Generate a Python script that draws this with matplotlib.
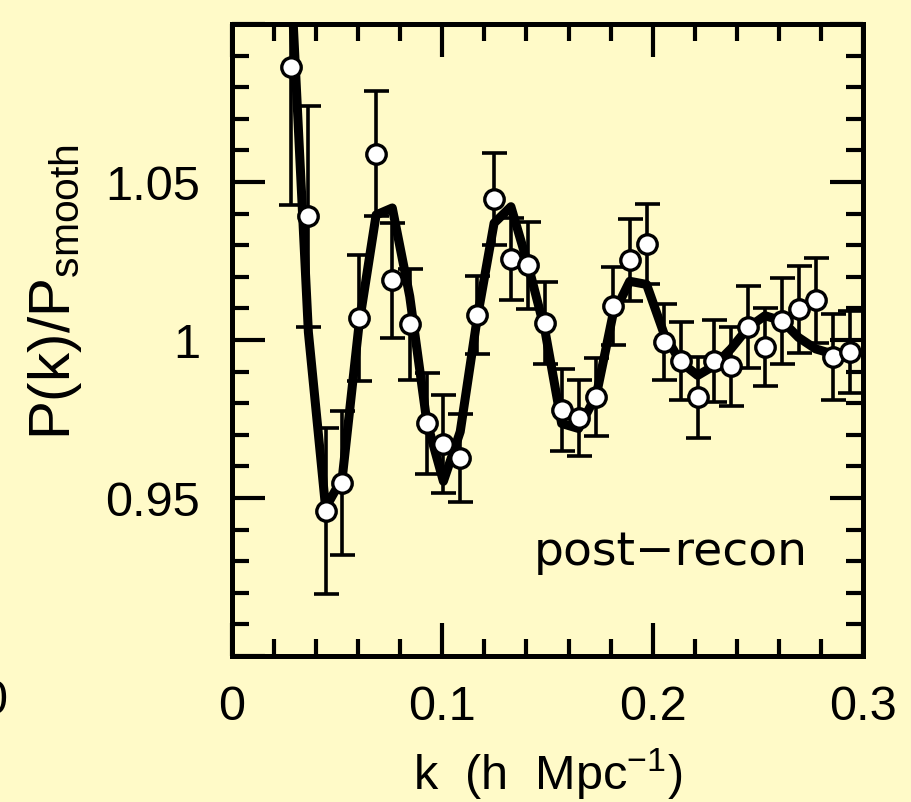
import numpy as np
import matplotlib
matplotlib.use("Agg")
import matplotlib.pyplot as plt
from matplotlib.ticker import MultipleLocator, FixedLocator, FixedFormatter

# BAO wiggles, post-recon panel
k = [0.0280, 0.0363, 0.0445, 0.0524, 0.0604, 0.0685, 0.0762, 0.0845, 0.0926, 0.1005,
     0.1085, 0.1165, 0.1246, 0.1326, 0.1409, 0.1488, 0.1567, 0.1648, 0.1732, 0.1810,
     0.1891, 0.1971, 0.2054, 0.2133, 0.2214, 0.2293, 0.2372, 0.2455, 0.2534, 0.2615,
     0.2694, 0.2775, 0.2856, 0.2938]
ratio = [1.0865, 1.0391, 0.9460, 0.9549, 1.0069, 1.0589, 1.0189, 1.0050, 0.9736, 0.9670,
         0.9627, 1.0079, 1.0447, 1.0256, 1.0236, 1.0053, 0.9778, 0.9754, 0.9820, 1.0108,
         1.0253, 1.0304, 0.9993, 0.9933, 0.9819, 0.9933, 0.9917, 1.0040, 0.9977, 1.0060,
         1.0097, 1.0126, 0.9946, 0.9963]
err = [0.0437, 0.0350, 0.0263, 0.0228, 0.0200, 0.0198, 0.0182, 0.0176, 0.0160, 0.0155,
       0.0140, 0.0124, 0.0146, 0.0130, 0.0138, 0.0130, 0.0129, 0.0120, 0.0123, 0.0124,
       0.0130, 0.0126, 0.0120, 0.0123, 0.0128, 0.0130, 0.0125, 0.0130, 0.0123, 0.0137,
       0.0137, 0.0134, 0.0135, 0.0130]
model = [1.1150, 1.0025, 0.9469, 0.9563, 1.0050, 1.0396, 1.0418, 1.0138, 0.9742, 0.9553,
         0.9710, 1.0066, 1.0370, 1.0422, 1.0234, 1.0030, 0.9736, 0.9720, 0.9825, 1.0077,
         1.0186, 1.0176, 1.0020, 0.9930, 0.9888, 0.9919, 0.9972, 1.0040, 1.0077, 1.0061,
         1.0008, 0.9972, 0.9956, 0.9965]

xticks = [0, 0.1, 0.2, 0.3]
xlabels = ['0', '0.1', '0.2', '0.3']
yticks = [0.9, 0.95, 1.0, 1.05, 1.1]
ylabels = ['', '0.95', '1', '1.05', '']

bg = '#fffac8'
plt.rcParams['font.family'] = ['Liberation Sans', 'DejaVu Sans']
plt.rcParams['mathtext.fontset'] = 'custom'
plt.rcParams['mathtext.rm'] = 'Liberation Sans'
plt.rcParams['mathtext.it'] = 'Liberation Sans'

fig = plt.figure(figsize=(9.11, 8.02), dpi=100, facecolor=bg)
ax = fig.add_axes([0.2547, 0.182, 0.6926, 0.788], facecolor=bg)

ax.errorbar(k, ratio, yerr=err, fmt='none', ecolor='black', elinewidth=2.6,
            capsize=9, capthick=2.6, zorder=2)
ax.plot(k, model, color='black', lw=6.5, zorder=3)
ax.plot(k, ratio, 'o', ms=14, mfc='white', mec='black', mew=2.4, zorder=4)

ax.set_xlim(0, 0.3)
ax.set_ylim(0.9, 1.1)
ax.xaxis.set_major_locator(FixedLocator(xticks))
ax.xaxis.set_major_formatter(FixedFormatter(xlabels))
ax.xaxis.set_minor_locator(MultipleLocator(0.02))
ax.yaxis.set_major_locator(FixedLocator(yticks))
ax.yaxis.set_major_formatter(FixedFormatter(ylabels))
ax.yaxis.set_minor_locator(MultipleLocator(0.01))

ax.tick_params(which='both', direction='in', top=True, right=True, width=3, color='black')
ax.tick_params(which='major', length=24)
ax.tick_params(which='minor', length=12)
ax.tick_params(axis='x', which='major', labelsize=35, pad=21)
ax.tick_params(axis='y', which='major', labelsize=35, pad=23)
for s in ax.spines.values():
    s.set_linewidth(3.6)

ax.set_xlabel('k  (h  Mpc$^{-1}$)', fontsize=35, labelpad=12)
fig.text(0.060, 0.6365, r'P(k)/P$_{\mathrm{smooth}}$', rotation=90, fontsize=42,
         ha='center', va='center')
ax.text(0.913, 0.144, 'post\u2212recon', transform=ax.transAxes, fontsize=34,
        ha='right', va='baseline', family='DejaVu Sans')
# sliver of the neighbouring panel's tick label
fig.text(-6 / 911, 1 - 702 / 802, '0', fontsize=35, ha='center', va='center')

fig.savefig('out.png', dpi=100, facecolor=bg)
